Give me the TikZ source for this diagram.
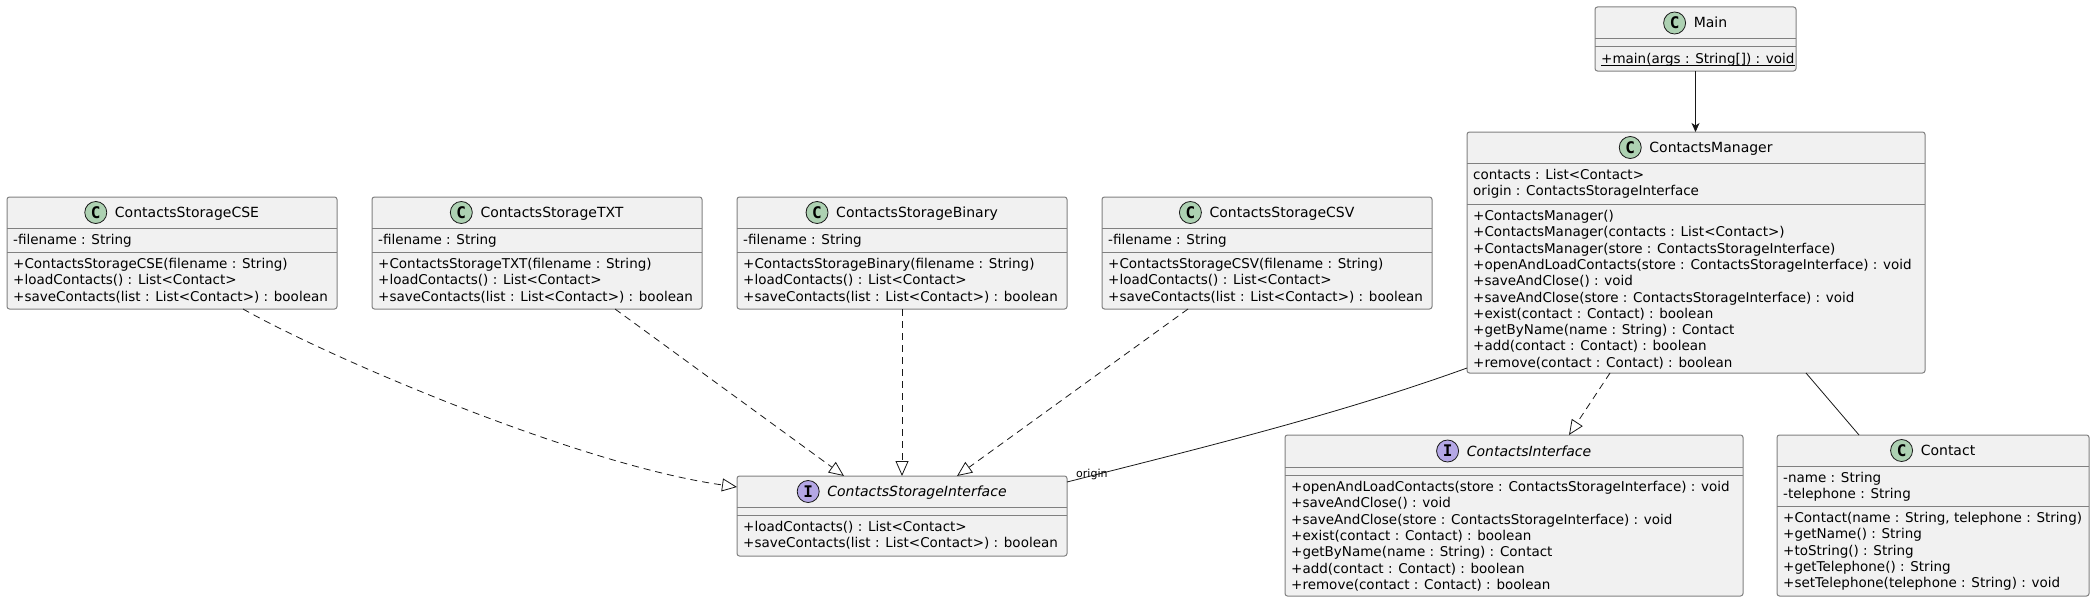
\documentclass[tikz,border=0pt]{standalone}
\usepackage{fontspec}
\setmainfont{DejaVu Sans}
\newfontfamily\iconfont{DejaVu Sans Mono}
\usetikzlibrary{arrows.meta,calc}
\definecolor{boxfill}{HTML}{F1F1F1}
\definecolor{boxline}{HTML}{808080}
\definecolor{conline}{HTML}{181818}
\definecolor{cgreen}{HTML}{ADD1B2}
\definecolor{ipurple}{HTML}{B4A7E5}
\tikzset{
 box/.style={draw=boxline, line width=1pt, fill=boxfill, rounded corners=2.5pt, inner sep=0pt, outer sep=0pt},
 divline/.style={draw=boxline, line width=1pt},
 member/.style={inner sep=0pt, anchor=base west, font=\fontsize{13.5}{16.3}\selectfont, text=black},
 cname/.style={inner sep=0pt, anchor=base, font=\fontsize{14}{16.3}\selectfont},
 iconbase/.style={circle, draw=conline, line width=0.8pt, minimum size=22pt, inner sep=0pt, font=\iconfont\bfseries\fontsize{16}{16}\selectfont},
 iconC/.style={iconbase, fill=cgreen},
 iconI/.style={iconbase, fill=ipurple},
 conn/.style={draw=conline, line width=0.8pt},
 assoc/.style={conn},
 navarrow/.style={conn, -{Stealth[length=9pt,width=8pt,inset=2.5pt]}},
 realize/.style={conn, dash pattern=on 7pt off 5pt, -{Triangle[length=15pt,width=13pt,fill=white]}},
 lbl/.style={inner sep=0pt, anchor=base west, font=\fontsize{11}{13}\selectfont},
}
% #1 name, #2 x1, #3 x2, #4 top, #5 header divider, #6 second divider, #7 bottom, #8 C/I, #9 title
\newcommand\umlclass[9]{%
  \node[box, anchor=north west, minimum width={#3-#2}, minimum height={#7-#4}] (#1) at (#2,#4) {};
  \draw[divline] (#2,#5) -- (#3,#5);
  \draw[divline] (#2,#6) -- (#3,#6);
  \node[cname] (#1-n) at ({(#2+#3)/2},{(#4+#5)/2+5}) {\hspace*{30pt}#9};
  \node[icon#8] (#1-i) at ($(#1-n.base west)+(11,-5)$) {#8};
}
% #1 prefix, #2 x, #3 first baseline, #4 list
\newcommand\members[4]{%
  \foreach \t [count=\i] in {#4} {
    \node[member] (#1\i) at (#2,{#3+16.3*(\i-1)}) {\t};
  }
}
\newcommand\ul[1]{\rlap{\rule[-2.2pt]{\widthof{#1}}{0.8pt}}#1}
\usepackage{calc}
\begin{document}
\begin{tikzpicture}[x=1pt,y=-1pt]
\useasboundingbox (0,0) rectangle (2095,602);

% Main
\umlclass{main}{1595}{1796}{7}{39}{47}{71}{C}{Main}
\members{main-m}{1601}{63.5}{{\ul{+main(args : String[]) : void}}}

% ContactsManager
\umlclass{cm}{1467}{1925}{132}{163}{204}{373}{C}{ContactsManager}
\members{cm-f}{1473}{179.5}{{contacts : List<Contact>},{origin : ContactsStorageInterface}}
\members{cm-m}{1473}{220.5}{{+ContactsManager()},{+ContactsManager(contacts : List<Contact>)},{+ContactsManager(store : ContactsStorageInterface)},{+openAndLoadContacts(store : ContactsStorageInterface) : void},{+saveAndClose() : void},{+saveAndClose(store : ContactsStorageInterface) : void},{+exist(contact : Contact) : boolean},{+getByName(name : String) : Contact},{+add(contact : Contact) : boolean},{+remove(contact : Contact) : boolean}}

% Storage classes
\umlclass{cse}{7}{337}{197}{228}{252}{309}{C}{ContactsStorageCSE}
\members{cse-f}{13}{244.5}{{-filename : String}}
\members{cse-m}{13}{268.5}{{+ContactsStorageCSE(filename : String)},{+loadContacts() : List<Contact>},{+saveContacts(list : List<Contact>) : boolean}}

\umlclass{txt}{372}{702}{197}{228}{252}{309}{C}{ContactsStorageTXT}
\members{txt-f}{378}{244.5}{{-filename : String}}
\members{txt-m}{378}{268.5}{{+ContactsStorageTXT(filename : String)},{+loadContacts() : List<Contact>},{+saveContacts(list : List<Contact>) : boolean}}

\umlclass{bin}{737}{1067}{197}{228}{252}{309}{C}{ContactsStorageBinary}
\members{bin-f}{743}{244.5}{{-filename : String}}
\members{bin-m}{743}{268.5}{{+ContactsStorageBinary(filename : String)},{+loadContacts() : List<Contact>},{+saveContacts(list : List<Contact>) : boolean}}

\umlclass{csv}{1102}{1432}{197}{228}{252}{309}{C}{ContactsStorageCSV}
\members{csv-f}{1108}{244.5}{{-filename : String}}
\members{csv-m}{1108}{268.5}{{+ContactsStorageCSV(filename : String)},{+loadContacts() : List<Contact>},{+saveContacts(list : List<Contact>) : boolean}}

% Interfaces
\umlclass{csi}{737}{1067}{476}{507}{515}{556}{I}{\itshape ContactsStorageInterface}
\members{csi-m}{743}{531.5}{{+loadContacts() : List<Contact>},{+saveContacts(list : List<Contact>) : boolean}}

\umlclass{ci}{1285}{1743}{435}{467}{475}{596}{I}{\itshape ContactsInterface}
\members{ci-m}{1291}{491.5}{{+openAndLoadContacts(store : ContactsStorageInterface) : void},{+saveAndClose() : void},{+saveAndClose(store : ContactsStorageInterface) : void},{+exist(contact : Contact) : boolean},{+getByName(name : String) : Contact},{+add(contact : Contact) : boolean},{+remove(contact : Contact) : boolean}}

% Contact
\umlclass{contact}{1777}{2089}{435}{466}{506}{596}{C}{Contact}
\members{contact-f}{1783}{482.5}{{-name : String},{-telephone : String}}
\members{contact-m}{1783}{522.5}{{+Contact(name : String, telephone : String)},{+getName() : String},{+toString() : String},{+getTelephone() : String},{+setTelephone(telephone : String) : void}}

% Connectors
\draw[navarrow] (main.south) -- (main.south |- cm.north);
\draw[realize] ([xshift=236pt]cse.south west) .. controls +(87,49) and +(-157,-22) .. ([yshift=-11pt]csi.north west);
\draw[realize] ([xshift=243pt]txt.south west) -- ([xshift=107pt]csi.north west);
\draw[realize] ([xshift=165pt]bin.south west) -- ([xshift=165pt]csi.north west);
\draw[realize] ([xshift=86pt]csv.south west) -- ([xshift=220pt]csi.north west);
\draw[assoc] ([yshift=5pt]cm.south west) .. controls +(-130,47) and +(130,-33) .. ([yshift=-6pt]csi.north east);
\node[lbl] (orig) at (1076,477) {origin};
\draw[realize] ([xshift=143pt]cm.south west) -- ([xshift=284pt]ci.north west);
\draw[assoc] ([xshift=339pt]cm.south west) -- ([xshift=82pt]contact.north west);
\end{tikzpicture}
\end{document}
